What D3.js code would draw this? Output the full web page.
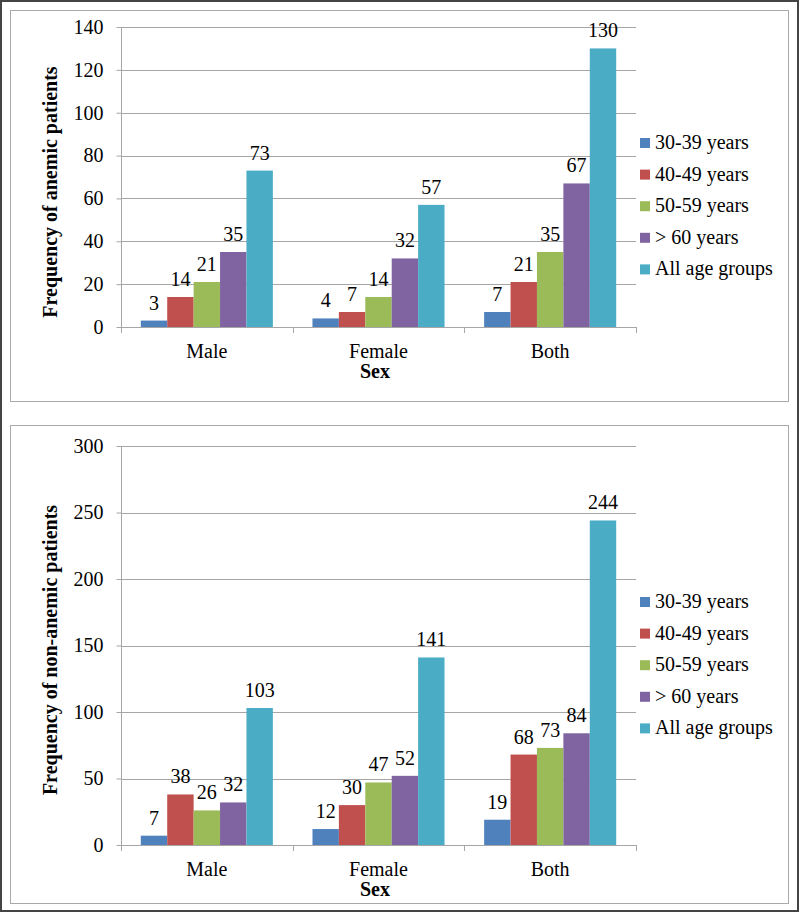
<!DOCTYPE html>
<html><head><meta charset="utf-8">
<script src="https://cdn.jsdelivr.net/npm/d3@7"></script>
<style>body{margin:0;background:#fff}svg{display:block}</style>
</head><body>
<script>
const categories = ["Male","Female","Both"];
const seriesNames = ["30-39 years","40-49 years","50-59 years","> 60 years","All age groups"];
const colors = ["#4F81BD","#C0504D","#9BBB59","#8064A2","#4BACC6"];
const anemic = [[3,4,7],[14,7,21],[21,14,35],[35,32,67],[73,57,130]];
const nonAnemic = [[7,12,19],[38,30,68],[26,47,73],[32,52,84],[103,141,244]];
const ticks1 = [0,20,40,60,80,100,120,140];
const ticks2 = [0,50,100,150,200,250,300];
const FONT = "Liberation Serif";

const svg = d3.select("body").append("svg").attr("width",800).attr("height",913);
svg.append("rect").attr("x",1).attr("y",1).attr("width",797).attr("height",910).attr("fill","#fff").attr("stroke","#444").attr("stroke-width",2);

function txt(sel){ return sel.attr("font-family",FONT).style("font-family",FONT).attr("fill","#000"); }

function panel(py, ph, top, bottom, data, ticks, ymax, ytitle, titleCy, legTop){
  svg.append("rect").attr("x",10.5).attr("y",py+0.5).attr("width",778).attr("height",ph).attr("fill","#fff").attr("stroke","#aaa").attr("stroke-width",1);
  const x0 = d3.scaleBand().domain(categories).range([121,636]);
  const x1 = d3.scaleBand().domain(seriesNames).range([0,x0.bandwidth()]).paddingOuter(0.75).paddingInner(0);
  const y = d3.scaleLinear().domain([0,ymax]).range([bottom,top]);
  const g = svg.append("g");
  g.selectAll(".grid").data(ticks.slice(1)).join("line")
    .attr("x1",121).attr("x2",636).attr("y1",d=>Math.round(y(d))+0.5).attr("y2",d=>Math.round(y(d))+0.5)
    .attr("stroke","#a6a6a6");
  const ya = g.append("g").attr("transform","translate(121.5,0)")
    .call(d3.axisLeft(y).tickValues(ticks).tickSize(5).tickPadding(13).tickFormat(d3.format("d")));
  ya.selectAll("path,line").attr("stroke","#a6a6a6");
  txt(ya.selectAll("text")).style("font-size","20px");
  ya.select("path").attr("d",`M0,${y(ymax)}V${bottom}`);
  const xa = g.append("g").attr("transform",`translate(0,${Math.round(bottom)+0.5})`)
    .call(d3.axisBottom(x0).tickSize(0));
  xa.select("path").attr("stroke","#a6a6a6").attr("d",`M121,0H636`);
  txt(xa.selectAll("text")).style("font-size","20px").attr("y",30).attr("dy",0);
  const bnd = [121, 121+x0.step(), 121+2*x0.step(), 636];
  g.selectAll(".xt").data(bnd).join("line").attr("x1",d=>Math.round(d)+0.5).attr("x2",d=>Math.round(d)+0.5)
    .attr("y1",bottom).attr("y2",bottom+6).attr("stroke","#a6a6a6");
  seriesNames.forEach((s,si)=>{
    categories.forEach((c,ci)=>{
      const v = data[si][ci];
      const bx = x0(c)+x1(s);
      g.append("rect").attr("x",bx).attr("y",y(v)).attr("width",x1.bandwidth()).attr("height",bottom-y(v)).attr("fill",colors[si]);
      txt(g.append("text")).attr("x",bx+x1.bandwidth()/2).attr("y",y(v)-11).attr("text-anchor","middle").style("font-size","20px").text(v);
    });
  });
  txt(g.append("text")).attr("x",375).attr("y",bottom+51).attr("text-anchor","middle").style("font-size","20px").style("font-weight","bold").text("Sex");
  txt(g.append("text")).attr("transform",`translate(57,${titleCy}) rotate(-90)`).attr("text-anchor","middle").style("font-size","20px").style("font-weight","bold").text(ytitle);
  seriesNames.forEach((s,i)=>{
    const ly = legTop + i*31.6;
    g.append("rect").attr("x",640).attr("y",ly-5).attr("width",10).attr("height",10).attr("fill",colors[i]);
    txt(g.append("text")).attr("x",655).attr("y",ly+6).style("font-size","20px").text(s);
  });
}
panel(10, 391, 27, 327, anemic, ticks1, 140, "Frequency of anemic patients", 192, 143);
panel(425, 478, 446, 845, nonAnemic, ticks2, 300, "Frequency of non-anemic patients", 650, 602);
</script>
</body></html>
